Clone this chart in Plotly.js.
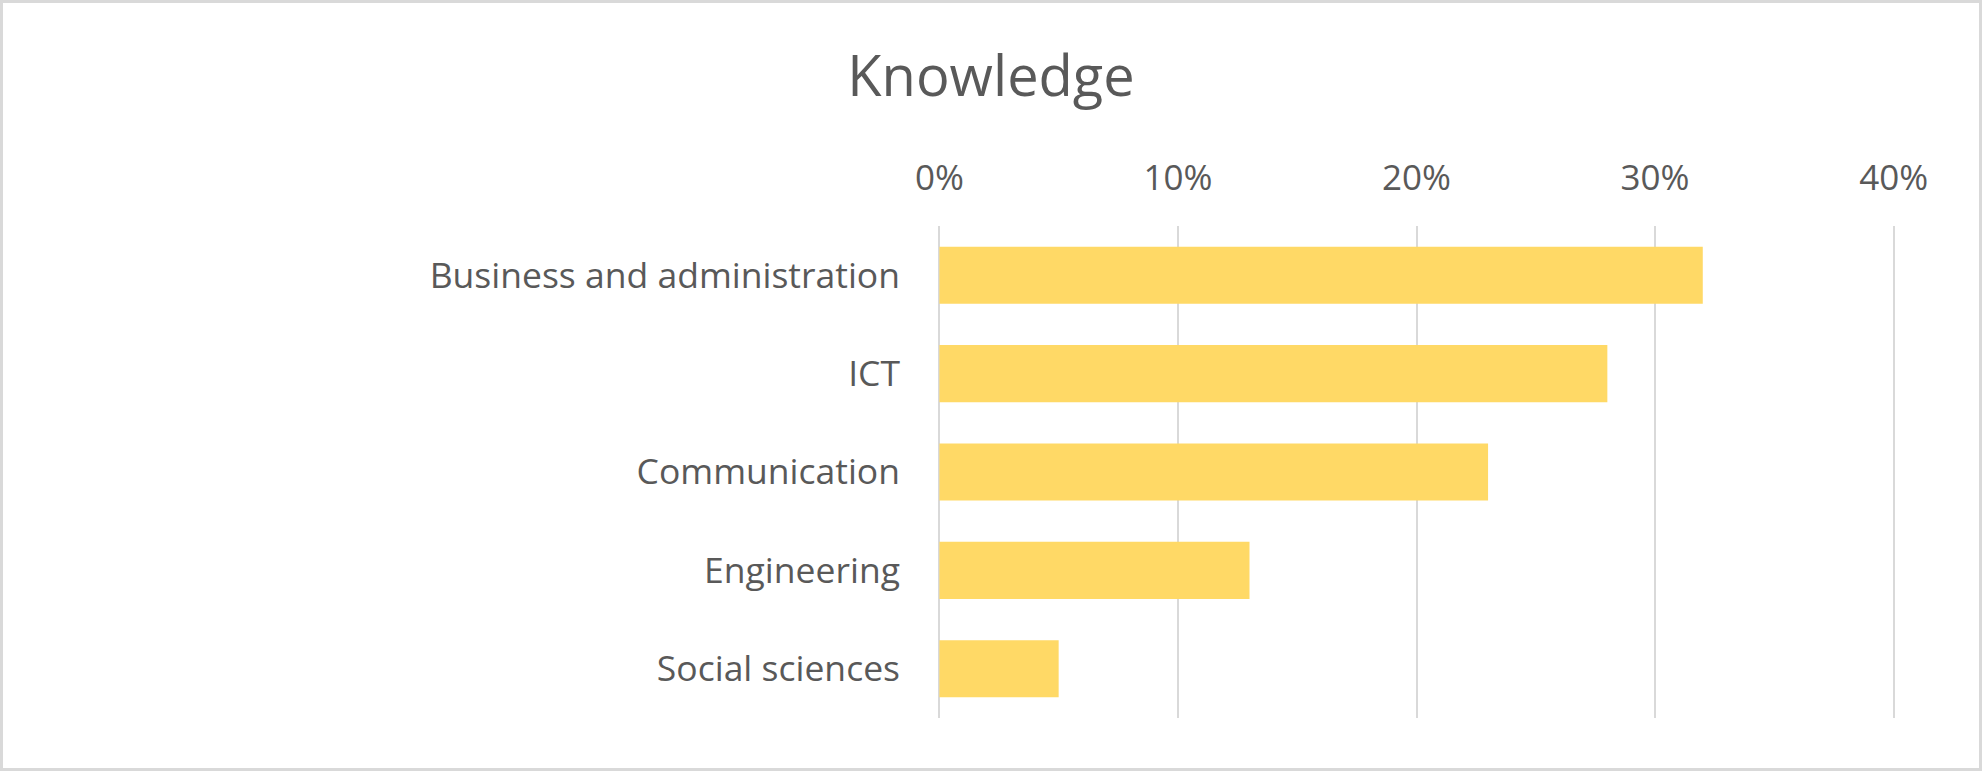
<!DOCTYPE html>
<html>
<head>
<meta charset="utf-8">
<script src="https://cdn.plot.ly/plotly-3.0.1.min.js"></script>
<style>
html, body { margin: 0; padding: 0; background: #ffffff; }
#wrap { position: relative; width: 1982px; height: 771px; }
#chart { width: 1982px; height: 771px; }
#frame { position: absolute; left: 0; top: 0; width: 1982px; height: 771px; box-sizing: border-box; border: 3px solid #d9d9d9; pointer-events: none; z-index: 10; }
</style>
</head>
<body>
<div id="wrap"><div id="chart"></div><div id="frame"></div></div>
<script>
var categories = ["Business and administration", "ICT", "Communication", "Engineering", "Social sciences"];
var shares = [0.32, 0.28, 0.23, 0.13, 0.05];
var tickValues = [0, 0.1, 0.2, 0.3, 0.4];
var tickLabels = ["0%", "10%", "20%", "30%", "40%"];
var chartTitle = "Knowledge";

var trace = {
  type: "bar",
  orientation: "h",
  x: shares,
  y: categories,
  marker: { color: "#ffd966" },
  hoverinfo: "x+y"
};

var layout = {
  width: 1982,
  height: 771,
  paper_bgcolor: "#ffffff",
  plot_bgcolor: "#ffffff",
  font: { family: "Open Sans, sans-serif", color: "#595959", size: 35 },
  title: {
    text: chartTitle,
    font: { family: "Open Sans, sans-serif", size: 56, color: "#595959" },
    x: 0.5,
    xref: "container",
    xanchor: "center",
    y: 1 - 76 / 771,
    yref: "container",
    yanchor: "middle"
  },
  margin: { l: 937, r: 86, t: 226, b: 53, pad: 0 },
  bargap: 0.42,
  showlegend: false,
  xaxis: {
    side: "top",
    range: [-0.001, 0.401],
    tickvals: tickValues,
    ticktext: tickLabels,
    showgrid: true,
    gridcolor: "#d9d9d9",
    gridwidth: 2,
    zeroline: false,
    showline: false,
    ticks: "",
    ticklabelstandoff: 28,
    tickfont: { size: 35, color: "#595959" },
    fixedrange: true
  },
  yaxis: {
    autorange: "reversed",
    showgrid: false,
    zeroline: false,
    showline: false,
    ticks: "",
    ticklabelstandoff: 36,
    tickfont: { size: 35.5, color: "#595959" },
    fixedrange: true
  }
};

Plotly.newPlot("chart", [trace], layout, { displayModeBar: false, staticPlot: true });
</script>
</body>
</html>
